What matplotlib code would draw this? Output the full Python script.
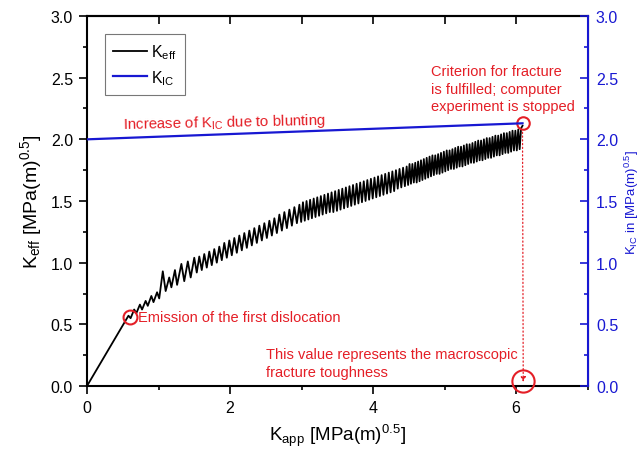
import matplotlib
matplotlib.use('Agg')
import matplotlib.pyplot as plt
import numpy as np
from matplotlib.ticker import MultipleLocator, FormatStrFormatter

plt.rcParams['font.family'] = ['Liberation Sans', 'DejaVu Sans']
plt.rcParams['mathtext.fontset'] = 'custom'
plt.rcParams['mathtext.rm'] = 'Liberation Sans'
plt.rcParams['mathtext.it'] = 'Liberation Sans'

RED = '#e41e26'
BLUE = '#1818d2'

# K_eff vs K_app (zigzag vertices)
k_app = [0, 0.58, 0.61, 0.66, 0.69, 0.74, 0.77, 0.82, 0.85, 0.90, 0.93, 0.98, 1.01, 1.06, 1.10, 1.15, 1.18, 1.23, 1.26, 1.32, 1.36, 1.41, 1.45, 1.50,
         1.535, 1.57, 1.605, 1.64, 1.675, 1.71, 1.745, 1.78, 1.815, 1.85, 1.885, 1.92, 1.955, 1.99, 2.025, 2.06, 2.095, 2.13,
         2.165, 2.20, 2.235, 2.27, 2.305, 2.34, 2.375, 2.41, 2.445, 2.48, 2.515, 2.55, 2.585, 2.62, 2.655, 2.69, 2.725, 2.76,
         2.795, 2.83, 2.865, 2.90, 2.935, 2.97,
         2.995, 3.02, 3.045, 3.07, 3.095, 3.12, 3.145, 3.17, 3.195, 3.22, 3.245, 3.27, 3.295, 3.32, 3.345, 3.37, 3.395, 3.42,
         3.445, 3.47, 3.495, 3.52, 3.545, 3.57, 3.595, 3.62, 3.645, 3.67, 3.695, 3.72, 3.745, 3.77, 3.795, 3.82, 3.845, 3.87,
         3.895, 3.92, 3.945, 3.97, 3.995, 4.02, 4.045, 4.07, 4.095, 4.12, 4.145, 4.17, 4.195, 4.22, 4.245, 4.27, 4.295, 4.32,
         4.345, 4.37, 4.395, 4.42, 4.445, 4.47,
         4.49, 4.51, 4.53, 4.55, 4.57, 4.59, 4.61, 4.63, 4.65, 4.67, 4.69, 4.71, 4.73, 4.75, 4.77, 4.79, 4.81, 4.83, 4.85, 4.87,
         4.89, 4.91, 4.93, 4.95, 4.97, 4.99, 5.01, 5.03, 5.05, 5.07, 5.09, 5.11, 5.13, 5.15, 5.17, 5.19, 5.21, 5.23, 5.25, 5.27,
         5.29, 5.31, 5.33, 5.35, 5.37, 5.39, 5.41, 5.43, 5.45, 5.47, 5.49, 5.51, 5.53, 5.55, 5.57, 5.59, 5.61, 5.63, 5.65, 5.67,
         5.69, 5.71, 5.73, 5.75, 5.77, 5.79, 5.81, 5.83, 5.85, 5.87, 5.89, 5.91, 5.93, 5.95, 5.97, 5.99, 6.01, 6.03, 6.05, 6.07,
         6.09]
k_eff = [0, 0.57, 0.55, 0.62, 0.59, 0.66, 0.62, 0.69, 0.65, 0.73, 0.68, 0.76, 0.71, 0.93, 0.77, 0.88, 0.80, 0.94, 0.82, 0.99, 0.85, 1.01, 0.88, 1.04,
         0.92, 1.05, 0.94, 1.07, 0.96, 1.09, 0.98, 1.11, 1.00, 1.13, 1.02, 1.16, 1.04, 1.18, 1.06, 1.20, 1.08, 1.22,
         1.10, 1.24, 1.12, 1.26, 1.14, 1.28, 1.16, 1.30, 1.18, 1.32, 1.20, 1.34, 1.22, 1.36, 1.24, 1.39, 1.26, 1.41,
         1.28, 1.43, 1.30, 1.45, 1.32, 1.47,
         1.33, 1.49, 1.34, 1.50, 1.35, 1.51, 1.36, 1.52, 1.37, 1.53, 1.38, 1.54, 1.39, 1.55, 1.40, 1.56, 1.41, 1.57,
         1.41, 1.58, 1.42, 1.59, 1.43, 1.60, 1.44, 1.61, 1.45, 1.62, 1.46, 1.63, 1.47, 1.64, 1.48, 1.65, 1.49, 1.66,
         1.50, 1.67, 1.51, 1.68, 1.52, 1.69, 1.53, 1.70, 1.54, 1.71, 1.55, 1.72, 1.56, 1.73, 1.57, 1.74, 1.58, 1.75,
         1.60, 1.76, 1.61, 1.77, 1.62, 1.78,
         1.63, 1.80, 1.64, 1.80, 1.65, 1.81, 1.65, 1.82, 1.66, 1.83, 1.67, 1.84, 1.68, 1.85, 1.69, 1.86, 1.70, 1.87, 1.71, 1.87,
         1.72, 1.88, 1.72, 1.89, 1.73, 1.90, 1.74, 1.91, 1.75, 1.91, 1.76, 1.92, 1.76, 1.93, 1.77, 1.94, 1.78, 1.94, 1.78, 1.95,
         1.79, 1.96, 1.80, 1.96, 1.81, 1.97, 1.81, 1.98, 1.82, 1.99, 1.83, 1.99, 1.83, 2.00, 1.84, 2.01, 1.85, 2.01, 1.85, 2.02,
         1.86, 2.03, 1.87, 2.03, 1.87, 2.04, 1.88, 2.05, 1.89, 2.05, 1.89, 2.06, 1.90, 2.07, 1.91, 2.07, 1.91, 2.08, 1.92, 2.09,
         2.11]

# K_IC vs K_app
kic_app = [0, 6.09]
kic = [2.00, 2.13]

# annotated points
emission_pt = [0.60, 0.56]
fracture_pt = [6.09, 2.13]
toughness_pt = [6.10, 0.04]

fig = plt.figure(figsize=(6.41, 4.52), dpi=100)
ax = fig.add_axes([0.1357, 0.1438, 0.7810, 0.8186])
ax2 = ax.twinx()

l1, = ax.plot(k_app, k_eff, color='black', lw=1.3, label=r'K$_{\mathrm{eff}}$')
l2, = ax2.plot(kic_app, kic, color=BLUE, lw=1.6, label=r'K$_{\mathrm{IC}}$')

ax.set_xlim(0, 7)
ax.set_ylim(0, 3)
ax2.set_ylim(0, 3)

ax.xaxis.set_major_locator(MultipleLocator(2))
ax.xaxis.set_minor_locator(MultipleLocator(1))
ax.yaxis.set_major_locator(MultipleLocator(0.5))
ax.yaxis.set_minor_locator(MultipleLocator(0.25))
ax2.yaxis.set_major_locator(MultipleLocator(0.5))
ax2.yaxis.set_minor_locator(MultipleLocator(0.25))
ax.yaxis.set_major_formatter(FormatStrFormatter('%.1f'))
ax2.yaxis.set_major_formatter(FormatStrFormatter('%.1f'))

ax.tick_params(axis='both', which='major', direction='out', length=6, width=1.2, labelsize=11.5, pad=4)
ax.tick_params(axis='both', which='minor', direction='out', length=3, width=1.2)
ax.tick_params(axis='x', top=False, which='both')
ax2.tick_params(axis='y', which='major', direction='in', length=6, width=1.2, colors=BLUE, labelsize=11.5, pad=6)
ax2.tick_params(axis='y', which='minor', direction='in', length=3, width=1.2, colors=BLUE)

# top ticks point inward
sec = ax.secondary_xaxis('top')
sec.xaxis.set_major_locator(MultipleLocator(1))
sec.tick_params(direction='in', length=6, width=1.2, labeltop=False)
sec.spines['top'].set_linewidth(1.5)

for s in ['left', 'bottom', 'top']:
    ax.spines[s].set_linewidth(1.5)
ax2.spines['right'].set_color(BLUE)
ax2.spines['right'].set_linewidth(1.5)
ax2.spines['left'].set_visible(False)
ax2.spines['top'].set_visible(False)
ax2.spines['bottom'].set_visible(False)

ax.set_xlabel(r'K$_{\mathrm{app}}$ [MPa(m)$^{0.5}$]', fontsize=13.5, labelpad=5)
ax.set_ylabel(r'K$_{\mathrm{eff}}$ [MPa(m)$^{0.5}$]', fontsize=14, labelpad=5)
ax2.set_ylabel(r'K$_{\mathrm{IC}}$ in [MPa(m)$^{0.5}$]', fontsize=9.5, color=BLUE, labelpad=3)

leg = ax.legend(handles=[l1, l2], loc='upper left', bbox_to_anchor=(0.036, 0.951), borderaxespad=0,
                fontsize=11.5, fancybox=False, edgecolor='#555555', handlelength=2.1,
                borderpad=0.5, labelspacing=0.45, handletextpad=0.3)
leg.get_frame().set_linewidth(0.8)

# annotations
ax.plot(*emission_pt, 'o', ms=10, mfc='none', mec=RED, mew=1.5, clip_on=False)
ax.plot(*fracture_pt, 'o', ms=9, mfc='none', mec=RED, mew=1.5, clip_on=False)
ax.plot(*toughness_pt, 'o', ms=16, mfc='none', mec=RED, mew=1.5, clip_on=False, zorder=5)
ax.annotate('', xy=(toughness_pt[0], 0.01), xytext=(fracture_pt[0], 2.08),
            arrowprops=dict(arrowstyle='-|>', color=RED, lw=0.9, ls=(0, (1, 2)), mutation_scale=7))

ax.text(0.50, 2.14, r'Increase of K$_{\mathrm{IC}}$ due to blunting', color=RED, fontsize=10.8,
        rotation=1.2, ha='left', va='center')
ax.text(4.81, 2.41, 'Criterion for fracture\nis fulfilled; computer\nexperiment is stopped', color=RED,
        fontsize=10.5, ha='left', va='center', linespacing=1.3)
ax.text(0.71, 0.56, 'Emission of the first dislocation', color=RED, fontsize=10.5, ha='left', va='center')
ax.text(2.51, 0.185, 'This value represents the macroscopic\nfracture toughness', color=RED, fontsize=10.5,
        ha='left', va='center', linespacing=1.35)

fig.savefig('out.png', dpi=100)
